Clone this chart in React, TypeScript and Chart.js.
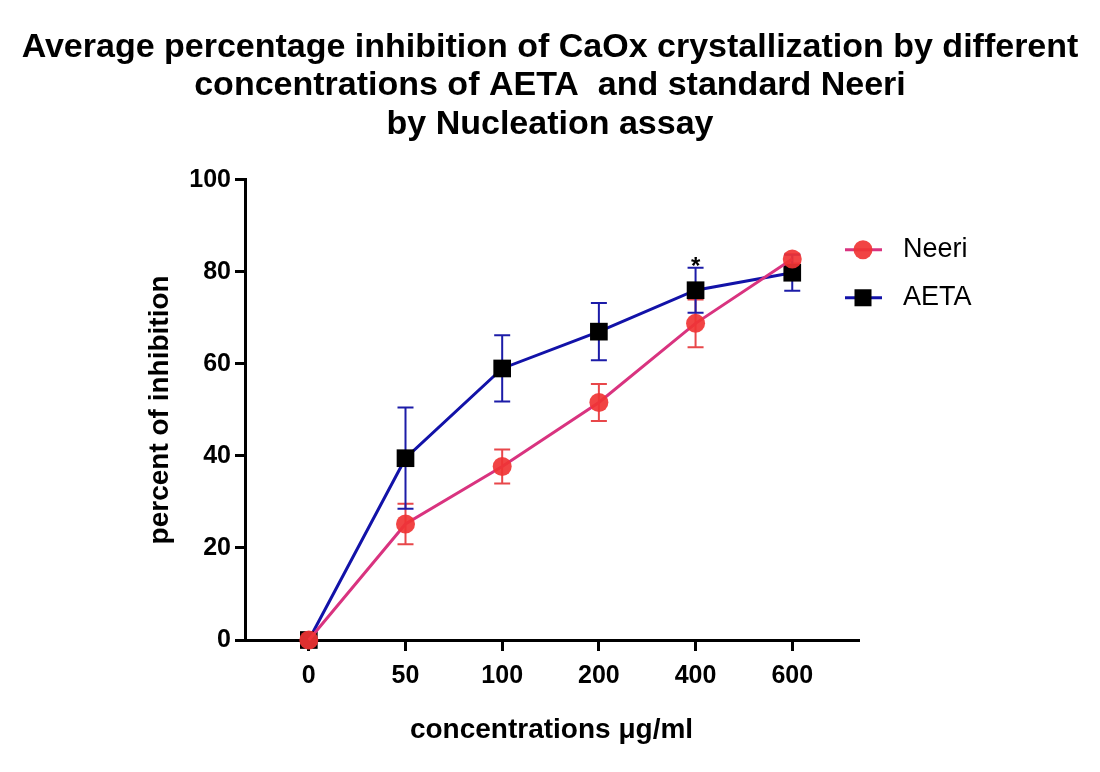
import React, { useEffect, useRef } from 'react';
import { Chart, registerables } from 'chart.js';

Chart.register(...registerables);

const concentrations = ['0', '50', '100', '200', '400', '600'];
const neeriMean = [0, 25.2, 37.7, 51.6, 68.8, 82.8];
const neeriErr = [0, 4.4, 3.7, 4.0, 5.2, 1.0];
const aetaMean = [0, 39.5, 59.0, 67.0, 76.0, 79.8];
const aetaErr = [0, 11.0, 7.2, 6.2, 4.9, 3.9];
const aetaStars = ['', '', '', '', '*', ''];
const yTicks = [0, 20, 40, 60, 80, 100];

const FONT = "'Liberation Sans', Arial, sans-serif";
const errors = [neeriErr, aetaErr];
const errorColors = ['#e8474a', '#1c1ca8'];

// error bars behind the markers, star above the AETA bar
const errorBars = {
  id: 'errorBars',
  beforeDatasetsDraw(chart: any) {
    const { ctx, scales } = chart;
    const y = scales.y;
    chart.data.datasets.forEach((ds: any, di: number) => {
      const meta = chart.getDatasetMeta(di);
      ctx.save();
      ctx.strokeStyle = errorColors[di];
      ctx.lineWidth = 2;
      meta.data.forEach((pt: any, i: number) => {
        const err = errors[di][i];
        if (!err) return;
        const v = ds.data[i].y;
        const top = y.getPixelForValue(v + err);
        const bot = y.getPixelForValue(v - err);
        ctx.beginPath();
        ctx.moveTo(pt.x, top);
        ctx.lineTo(pt.x, bot);
        ctx.moveTo(pt.x - 8, top);
        ctx.lineTo(pt.x + 8, top);
        ctx.moveTo(pt.x - 8, bot);
        ctx.lineTo(pt.x + 8, bot);
        ctx.stroke();
      });
      ctx.restore();
    });
  },
  afterDatasetsDraw(chart: any) {
    const { ctx, scales } = chart;
    const meta = chart.getDatasetMeta(1);
    ctx.save();
    ctx.fillStyle = '#000';
    ctx.font = `bold 24px ${FONT}`;
    ctx.textAlign = 'center';
    ctx.textBaseline = 'alphabetic';
    meta.data.forEach((pt: any, i: number) => {
      if (!aetaStars[i]) return;
      const top = scales.y.getPixelForValue(aetaMean[i] + aetaErr[i]);
      ctx.fillText(aetaStars[i], pt.x, top + 6);
    });
    ctx.restore();
  },
};

const sideLegend = {
  id: 'sideLegend',
  afterDraw(chart: any) {
    const { ctx, chartArea } = chart;
    const x0 = chartArea.right;
    const rows = [
      { label: 'Neeri', line: '#d9337f', dy: 70 },
      { label: 'AETA', line: '#1212a8', dy: 118 },
    ];
    ctx.save();
    rows.forEach((r, i) => {
      const yy = chartArea.top + r.dy;
      ctx.strokeStyle = r.line;
      ctx.lineWidth = 3;
      ctx.beginPath();
      ctx.moveTo(x0 - 13, yy);
      ctx.lineTo(x0 + 24, yy);
      ctx.stroke();
      if (i === 0) {
        ctx.fillStyle = 'rgba(240,52,52,0.92)';
        ctx.beginPath();
        ctx.arc(x0 + 5, yy, 9.5, 0, Math.PI * 2);
        ctx.fill();
      } else {
        ctx.fillStyle = '#000';
        ctx.fillRect(x0 + 5 - 8.5, yy - 8.5, 17, 17);
      }
      ctx.fillStyle = '#000';
      ctx.font = `27px ${FONT}`;
      ctx.textAlign = 'left';
      ctx.textBaseline = 'middle';
      ctx.fillText(r.label, x0 + 45, yy);
    });
    ctx.restore();
  },
};

export default function App() {
  const canvasRef = useRef<HTMLCanvasElement>(null);
  const chartRef = useRef<Chart | null>(null);

  useEffect(() => {
    document.body.style.margin = '0';
    if (!canvasRef.current) return;
    if (chartRef.current) chartRef.current.destroy();

    chartRef.current = new Chart(canvasRef.current, {
      type: 'line',
      data: {
        datasets: [
          {
            label: 'Neeri',
            data: neeriMean.map((v, i) => ({ x: i, y: v })),
            borderColor: '#d9337f',
            borderWidth: 3,
            pointStyle: 'circle',
            pointRadius: 9.5,
            pointBackgroundColor: 'rgba(240,52,52,0.92)',
            pointBorderWidth: 0,
            clip: false,
          },
          {
            label: 'AETA',
            data: aetaMean.map((v, i) => ({ x: i, y: v })),
            borderColor: '#1212a8',
            borderWidth: 3,
            pointStyle: 'rect',
            pointRadius: 12.5,
            pointBackgroundColor: '#000',
            pointBorderColor: '#000',
            pointBorderWidth: 0,
            clip: false,
          },
        ],
      },
      options: {
        animation: false,
        responsive: false,
        layout: { padding: 0 },
        font: { family: FONT },
        plugins: {
          legend: { display: false },
          tooltip: { enabled: false },
          title: {
            display: true,
            text: [
              'Average percentage inhibition of CaOx crystallization by different',
              'concentrations of AETA  and standard Neeri',
              'by Nucleation assay',
            ],
            color: '#000',
            font: { family: FONT, size: 34, weight: 'bold', lineHeight: 1.135 },
            padding: { top: 28, bottom: 36 },
          },
        },
        scales: {
          x: {
            type: 'linear',
            min: -0.66,
            max: 5.68,
            afterBuildTicks: (s: any) => {
              s.ticks = concentrations.map((_, i) => ({ value: i }));
            },
            afterFit: (s: any) => {
              s.height = 132;
            },
            ticks: {
              callback: (v: any) => concentrations[v],
              color: '#000',
              font: { family: FONT, size: 25, weight: 'bold' },
              padding: 10,
              maxRotation: 0,
            },
            grid: { drawOnChartArea: false, tickLength: 11, lineWidth: 3, color: '#000' },
            border: { width: 3, color: '#000' },
            title: {
              display: true,
              text: 'concentrations μg/ml',
              color: '#000',
              font: { family: FONT, size: 28, weight: 'bold' },
              padding: { top: 0, bottom: 25 },
            },
          },
          y: {
            min: 0,
            max: 100,
            afterBuildTicks: (s: any) => {
              s.ticks = yTicks.map((v) => ({ value: v }));
            },
            afterFit: (s: any) => {
              s.width = 245;
            },
            ticks: {
              color: '#000',
              font: { family: FONT, size: 25, weight: 'bold' },
              padding: 4,
            },
            grid: { drawOnChartArea: false, tickLength: 10, lineWidth: 3, color: '#000' },
            border: { width: 3, color: '#000' },
            title: {
              display: true,
              text: 'percent of inhibition',
              color: '#000',
              font: { family: FONT, size: 28, weight: 'bold' },
              padding: { top: 143, bottom: 0 },
            },
          },
          // empty axis on the right that only keeps room for the legend
          legendSpace: {
            type: 'linear',
            position: 'right',
            min: 0,
            max: 1,
            afterFit: (s: any) => {
              s.width = 242;
            },
            ticks: { display: false },
            grid: { display: false },
            border: { display: false },
          },
        },
      },
      plugins: [errorBars, sideLegend],
    });

    return () => {
      if (chartRef.current) {
        chartRef.current.destroy();
        chartRef.current = null;
      }
    };
  }, []);

  return (
    <div style={{ width: 1100, height: 772 }}>
      <canvas ref={canvasRef} width={1100} height={772}></canvas>
    </div>
  );
}
